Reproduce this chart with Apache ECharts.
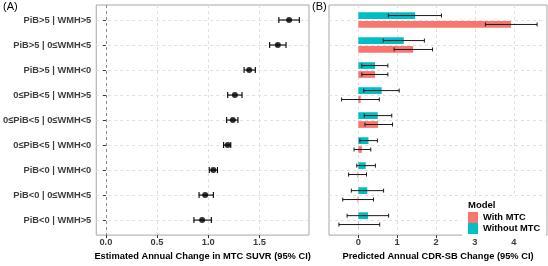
<!DOCTYPE html>
<html><head><meta charset="utf-8">
<script src="https://cdn.jsdelivr.net/npm/echarts@6/dist/echarts.min.js"></script>
<style>html,body{margin:0;padding:0;background:#fff}#c{width:548px;height:266px}</style>
</head><body><div id="c"></div>
<script>
const categories = ['PiB>5 | WMH>5','PiB>5 | 0≤WMH<5','PiB>5 | WMH<0','0≤PiB<5 | WMH>5','0≤PiB<5 | 0≤WMH<5','0≤PiB<5 | WMH<0','PiB<0 | WMH<0','PiB<0 | 0≤WMH<5','PiB<0 | WMH>5'];
const suvrEst = [1.79, 1.68, 1.40, 1.26, 1.24, 1.19, 1.05, 0.97, 0.94];
const suvrLo  = [1.69, 1.60, 1.35, 1.19, 1.18, 1.15, 1.01, 0.91, 0.86];
const suvrHi  = [1.89, 1.76, 1.46, 1.33, 1.29, 1.22, 1.09, 1.05, 1.03];
const withEst = [3.93, 1.41, 0.43, 0.06, 0.51, 0.09, -0.02, -0.02, -0.01];
const withLo  = [3.27, 0.92, 0.09, -0.43, 0.17, -0.11, -0.25, -0.40, -0.50];
const withHi  = [4.60, 1.91, 0.76, 0.54, 0.88, 0.32, 0.21, 0.39, 0.55];
const woEst   = [1.46, 1.17, 0.43, 0.60, 0.50, 0.26, 0.19, 0.23, 0.25];
const woLo    = [0.77, 0.64, 0.09, 0.14, 0.15, 0.04, -0.04, -0.18, -0.29];
const woHi    = [2.14, 1.70, 0.76, 1.05, 0.86, 0.49, 0.44, 0.65, 0.78];
const xTicksA = [0, 0.5, 1.0, 1.5];
const xTicksB = [0, 1, 2, 3, 4];
const seriesNames = ['With MTC', 'Without MTC'];
const colWith = '#F8766D', colWo = '#00BFC4';

const rows = categories.map((c, i) => i + 1);
const FONT = 'Liberation Sans, Arial, sans-serif';
const tickLab = {fontFamily: FONT, fontSize: 9.3, fontWeight: 'bold', color: '#3d3d3d'};
const gridLine = {show: true, lineStyle: {color: '#e0e0e0', type: [3, 3], width: 1}};
const yAxisBase = {
  type: 'value', min: 0.4, max: 9.6, inverse: true,
  axisLine: {show: false},
  splitLine: gridLine
};

function errBar(color, width, capHalf, offsetFrac) {
  return function (params, api) {
    const lo = api.value(0), hi = api.value(1), r = api.value(2);
    const band = api.size([0, 1])[1];
    const off = offsetFrac * band;
    const a = api.coord([lo, r]), b = api.coord([hi, r]);
    const y = a[1] + off;
    const st = {stroke: color, lineWidth: width};
    return {type: 'group', children: [
      {type: 'line', shape: {x1: a[0], y1: y, x2: b[0], y2: y}, style: st},
      {type: 'line', shape: {x1: a[0], y1: y - capHalf, x2: a[0], y2: y + capHalf}, style: st},
      {type: 'line', shape: {x1: b[0], y1: y - capHalf, x2: b[0], y2: y + capHalf}, style: st}
    ]};
  };
}
function barItem(offsetFrac, thickFrac) {
  return function (params, api) {
    const v = api.value(0), r = api.value(1);
    const band = api.size([0, 1])[1];
    const p0 = api.coord([0, r]), p1 = api.coord([v, r]);
    const th = thickFrac * band;
    const cy = p0[1] + offsetFrac * band;
    return {type: 'rect',
      shape: {x: Math.min(p0[0], p1[0]), y: cy - th / 2, width: Math.abs(p1[0] - p0[0]), height: th},
      style: {fill: api.visual('color')}};
  };
}

const chart = echarts.init(document.getElementById('c'), null, {renderer: 'canvas'});
chart.setOption({
  animation: false,
  backgroundColor: '#fff',
  grid: [
    {left: 92, top: 5, width: 217, height: 238, show: true, borderColor: '#a6a6a6', borderWidth: 1, backgroundColor: 'transparent'},
    {left: 329, top: 5, width: 218, height: 238, show: true, borderColor: '#a6a6a6', borderWidth: 1, backgroundColor: 'transparent'}
  ],
  xAxis: [
    {gridIndex: 0, type: 'value', min: -0.0945, max: 1.9845,
     axisLine: {show: false},
     axisTick: {show: true, length: 3, customValues: xTicksA, lineStyle: {color: '#333'}},
     axisLabel: Object.assign({customValues: xTicksA, margin: 3, formatter: v => v.toFixed(1)}, tickLab),
     splitLine: gridLine,
     name: 'Estimated Annual Change in MTC SUVR (95% CI)', nameLocation: 'middle', nameGap: 13,
     nameTextStyle: {fontFamily: FONT, fontSize: 9.3, fontWeight: 'bold', color: '#000'}},
    {gridIndex: 1, type: 'value', min: -0.755, max: 4.855,
     axisLine: {show: false},
     axisTick: {show: true, length: 3, customValues: xTicksB, lineStyle: {color: '#333'}},
     axisLabel: Object.assign({customValues: xTicksB, margin: 3, formatter: v => String(v)}, tickLab),
     splitLine: gridLine,
     name: 'Predicted Annual CDR-SB Change (95% CI)', nameLocation: 'middle', nameGap: 13,
     nameTextStyle: {fontFamily: FONT, fontSize: 9.3, fontWeight: 'bold', color: '#000'}}
  ],
  yAxis: [
    Object.assign({gridIndex: 0,
      axisTick: {show: true, length: 3, customValues: rows, lineStyle: {color: '#333'}},
      axisLabel: Object.assign({customValues: rows, margin: 5, formatter: v => categories[Math.round(v) - 1]}, tickLab)
    }, yAxisBase),
    Object.assign({gridIndex: 1,
      axisTick: {show: false, customValues: rows},
      axisLabel: {show: false, customValues: rows}
    }, yAxisBase)
  ],
  legend: {
    orient: 'vertical', left: 468, top: 212, itemWidth: 10, itemHeight: 11, itemGap: 0,
    padding: 0, icon: 'rect', data: seriesNames,
    textStyle: {fontFamily: FONT, fontSize: 9.3, fontWeight: 'bold', color: '#000'}
  },
  graphic: [
    {type: 'rect', z: 3, shape: {x: 462, y: 197, width: 84, height: 41}, style: {fill: '#fff'}},
    {type: 'text', z: 5, left: 468, top: 200, style: {text: 'Model', font: 'bold 9.5px ' + FONT, fill: '#000'}},
    {type: 'text', z: 5, left: 3, top: 1, style: {text: '(A)', font: '11px ' + FONT, fill: '#000'}},
    {type: 'text', z: 5, left: 312, top: 1, style: {text: '(B)', font: '11px ' + FONT, fill: '#000'}}
  ],
  series: [
    {type: 'custom', name: 'ciA', xAxisIndex: 0, yAxisIndex: 0, z: 3,
     data: rows.map((r, i) => [suvrLo[i], suvrHi[i], r]),
     renderItem: errBar('#000', 1.1, 3, 0),
     markLine: {silent: true, symbol: 'none', label: {show: false},
       lineStyle: {color: '#8c8c8c', type: [3, 3], width: 1}, data: [{xAxis: 0}]}},
    {type: 'scatter', name: 'estA', xAxisIndex: 0, yAxisIndex: 0, z: 4,
     symbol: 'circle', symbolSize: 6, itemStyle: {color: '#000'},
     data: rows.map((r, i) => [suvrEst[i], r])},
    {type: 'custom', name: 'Without MTC', xAxisIndex: 1, yAxisIndex: 1, z: 2,
     itemStyle: {color: colWo},
     data: rows.map((r, i) => [woEst[i], r]),
     renderItem: barItem(-0.178, 0.27)},
    {type: 'custom', name: 'With MTC', xAxisIndex: 1, yAxisIndex: 1, z: 2,
     itemStyle: {color: colWith},
     data: rows.map((r, i) => [withEst[i], r]),
     renderItem: barItem(0.178, 0.27)},
    {type: 'custom', name: 'ciWo', xAxisIndex: 1, yAxisIndex: 1, z: 3,
     data: rows.map((r, i) => [woLo[i], woHi[i], r]),
     renderItem: errBar('#1a1a1a', 1, 2, -0.178)},
    {type: 'custom', name: 'ciWith', xAxisIndex: 1, yAxisIndex: 1, z: 3,
     data: rows.map((r, i) => [withLo[i], withHi[i], r]),
     renderItem: errBar('#1a1a1a', 1, 2, 0.178)}
  ]
});
</script></body></html>
